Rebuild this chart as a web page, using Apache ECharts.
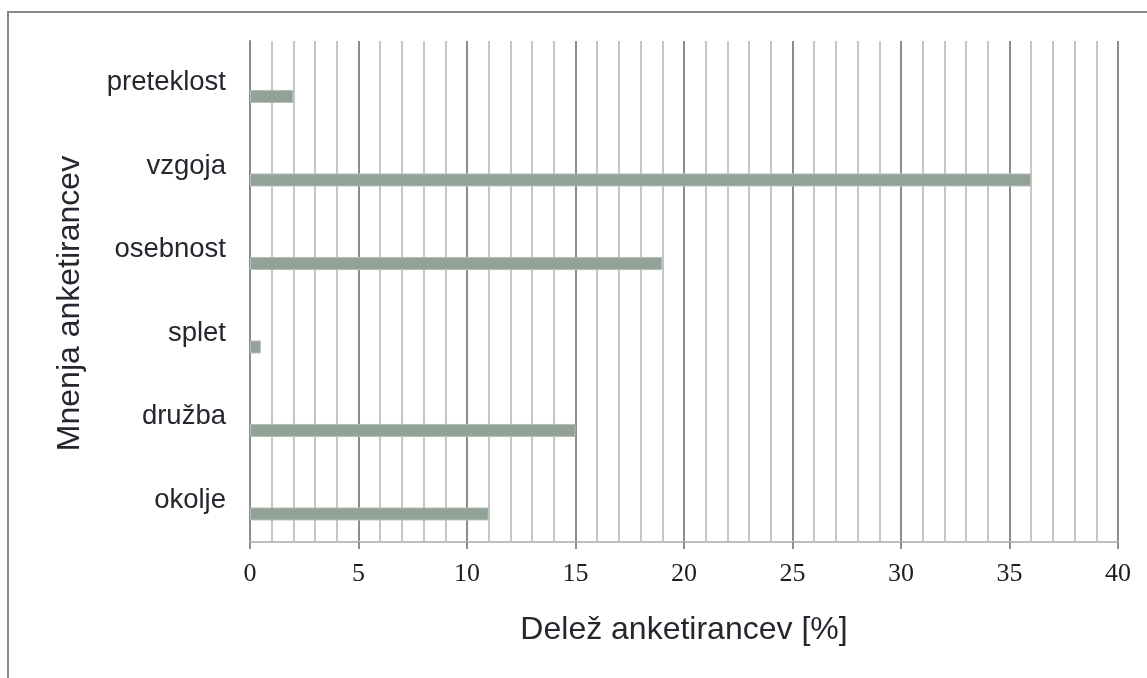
<!DOCTYPE html>
<html>
<head>
<meta charset="utf-8">
<script src="https://cdn.jsdelivr.net/npm/echarts@6/dist/echarts.min.js"></script>
<style>
  html, body { margin: 0; padding: 0; background: #fff; }
  #chart { width: 1147px; height: 678px; }
</style>
</head>
<body>
<div id="chart"></div>
<script>
// categories bottom -> top
const categories = ["okolje", "družba", "splet", "osebnost", "vzgoja", "preteklost"];
const shares = [11, 15, 0.5, 19, 36, 2];
const spacer = ["-", "-", "-", "-", "-", "-"];

const xMin = 0;
const xMax = 40;
const xStep = 5;

const chart = echarts.init(document.getElementById("chart"));

chart.setOption({
  backgroundColor: "#fff",
  animation: false,
  graphic: [
    {
      type: "rect",
      shape: { x: 8, y: 12, width: 1160, height: 700 },
      style: { fill: "none", stroke: "#8a8a8a", lineWidth: 2 },
      silent: true,
    },
  ],
  grid: {
    left: 250,
    right: 29,
    top: 41,
    bottom: 136,
  },
  xAxis: {
    type: "value",
    min: xMin,
    max: xMax,
    interval: xStep,
    name: "Delež anketirancev [%]",
    nameLocation: "middle",
    nameGap: 72,
    nameTextStyle: {
      fontFamily: "Liberation Sans",
      fontSize: 32,
      color: "#26262e",
    },
    axisLine: { show: true, lineStyle: { color: "#bdbdbd", width: 2 } },
    axisTick: { show: true, length: 7, lineStyle: { color: "#8c8c8c", width: 2 } },
    axisLabel: {
      margin: 19,
      fontFamily: "Liberation Serif",
      fontSize: 26,
      color: "#1e1e1e",
    },
    splitLine: { show: true, lineStyle: { color: "#8c8c8c", width: 2 } },
    minorTick: { show: false, splitNumber: 5 },
    minorSplitLine: { show: true, lineStyle: { color: "#c6c6c6", width: 2 } },
  },
  yAxis: {
    type: "category",
    data: categories,
    name: "Mnenja anketirancev",
    nameLocation: "middle",
    nameGap: 164,
    nameRotate: 90,
    nameTextStyle: {
      fontFamily: "Liberation Sans",
      fontSize: 32,
      color: "#26262e",
      padding: [0, 24, 0, 0],
    },
    axisLine: { show: true, lineStyle: { color: "#8c8c8c", width: 2 } },
    axisTick: { show: false },
    axisLabel: {
      margin: 24,
      fontFamily: "Liberation Sans",
      fontSize: 27.5,
      color: "#26262e",
    },
    splitLine: { show: false },
  },
  series: [
    {
      type: "bar",
      data: spacer,
      barWidth: 13,
      barGap: "111%",
      silent: true,
    },
    {
      type: "bar",
      data: shares,
      barWidth: 13,
      barGap: "111%",
      itemStyle: { color: "#93a297", borderColor: "#b4bfb7", borderWidth: 1 },
    },
  ],
});
</script>
</body>
</html>
